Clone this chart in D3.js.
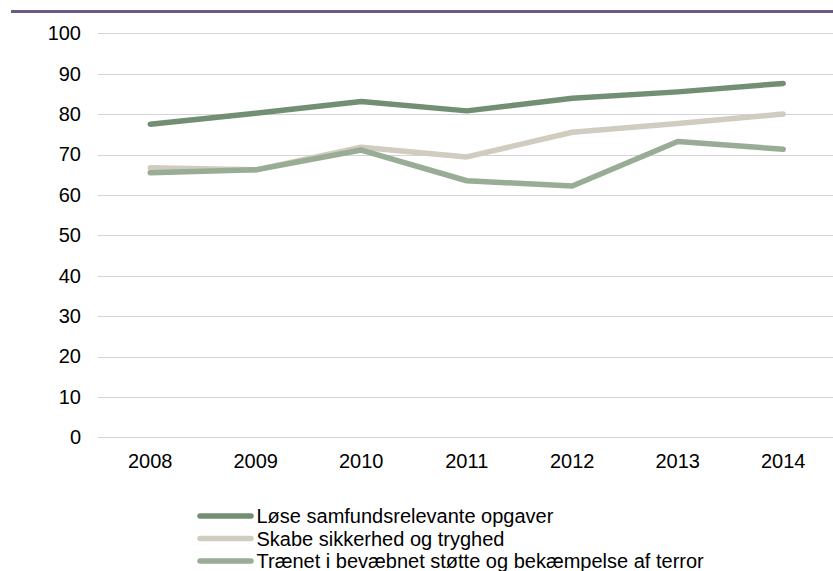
<!DOCTYPE html>
<html>
<head>
<meta charset="utf-8">
<script src="https://cdn.jsdelivr.net/npm/d3@7"></script>
<style>
  body { margin: 0; background: #fff; }
  svg text { font-family: "Liberation Sans", Arial, sans-serif; fill: #000; }
</style>
</head>
<body>
<div id="chart"></div>
<script>
// data
const years = ['2008', '2009', '2010', '2011', '2012', '2013', '2014']
const yTicks = [0, 10, 20, 30, 40, 50, 60, 70, 80, 90, 100]
const seriesNames = [
    'Løse samfundsrelevante opgaver',
    'Skabe sikkerhed og tryghed',
    'Trænet i bevæbnet støtte og bekæmpelse af terror'
]
const loese = [77.5, 80.2, 83.1, 80.8, 83.9, 85.5, 87.6]
const skabe = [66.7, 66.2, 71.8, 69.4, 75.5, 77.7, 80.0]
const traenet = [65.5, 66.2, 71.1, 63.5, 62.2, 73.2, 71.3]
const colors = ['#738f73', '#d0ccbf', '#98ac96']

const width = 833
const height = 571

const svg = d3.select('#chart')
    .append('svg')
    .attr('width', width)
    .attr('height', height)

// purple rule at the top
svg.append('rect')
    .attr('x', 11)
    .attr('y', 10)
    .attr('width', width - 11)
    .attr('height', 3)
    .attr('fill', '#6a5a8c')

const x = d3.scaleBand()
    .domain(years)
    .range([97.5, 836])

const y = d3.scaleLinear()
    .domain([0, 100])
    .range([437.3, 33.3])

// gridlines
svg.append('g')
    .selectAll('line')
    .data(yTicks)
    .enter()
    .append('line')
    .attr('x1', 98)
    .attr('x2', width)
    .attr('y1', d => Math.round(y(d)) + 0.5)
    .attr('y2', d => Math.round(y(d)) + 0.5)
    .attr('stroke', '#d4d4d4')
    .attr('stroke-width', 1.2)

// y axis labels
const yAxis = svg.append('g')
    .attr('transform', 'translate(98,0)')
    .call(d3.axisLeft(y).tickValues(yTicks).tickSize(0).tickPadding(17))
yAxis.select('.domain').remove()
yAxis.selectAll('text')
    .style('font-size', '20px')
    .attr('font-family', null)

// x axis labels
const xAxis = svg.append('g')
    .attr('transform', 'translate(0,437.3)')
    .call(d3.axisBottom(x).tickSize(0).tickPadding(17))
xAxis.select('.domain').remove()
xAxis.selectAll('text')
    .style('font-size', '20px')
    .attr('font-family', null)

const allSeries = [loese, skabe, traenet]

const line = d3.line()
    .x((d, i) => x(years[i]) + x.bandwidth() / 2)
    .y(d => y(d))

svg.append('g')
    .selectAll('path')
    .data(allSeries)
    .enter()
    .append('path')
    .attr('d', line)
    .attr('fill', 'none')
    .attr('stroke', (d, i) => colors[i])
    .attr('stroke-width', 5.5)
    .attr('stroke-linecap', 'round')
    .attr('stroke-linejoin', 'round')

// legend
const legend = svg.append('g')
    .attr('transform', 'translate(198,516)')

const item = legend.selectAll('g')
    .data(seriesNames)
    .enter()
    .append('g')
    .attr('transform', (d, i) => `translate(0,${i * 22.5})`)

item.append('line')
    .attr('x1', 2)
    .attr('x2', 53)
    .attr('stroke', (d, i) => colors[i])
    .attr('stroke-width', 5.5)
    .attr('stroke-linecap', 'round')

item.append('text')
    .attr('x', 58.5)
    .attr('dy', '0.35em')
    .style('font-size', '20px')
    .text(d => d)
</script>
</body>
</html>
